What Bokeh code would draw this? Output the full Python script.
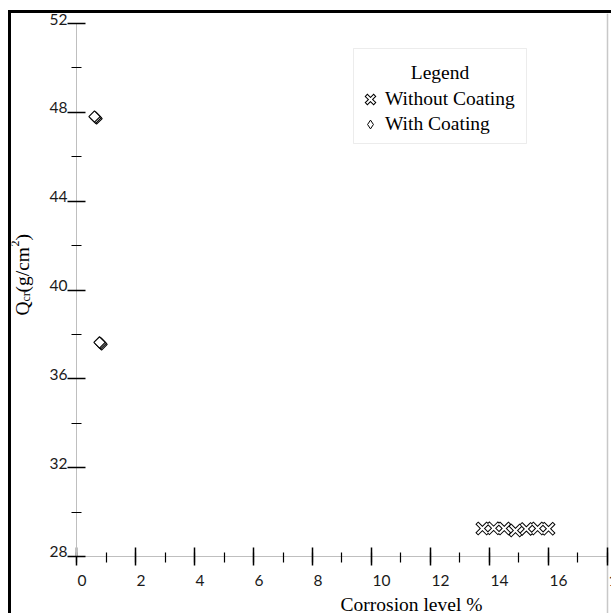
from math import pi

from bokeh.core.properties import value
from bokeh.embed import file_html
from bokeh.models import (BoxAnnotation, ColumnDataSource, CustomJSTickFormatter,
                          FixedTicker, Grid, Label, LabelSet, Legend, LegendItem,
                          SingleIntervalTicker)
from bokeh.plotting import figure
from bokeh.resources import INLINE

# Specimens with coating (two clusters of repeated measurements)
coated_x = [0.68, 0.65, 0.61, 0.85, 0.82, 0.78]
coated_q = [47.72, 47.76, 47.81, 37.55, 37.60, 37.64]

# Specimens without coating
bare_x = [13.76, 14.14, 14.50, 14.88, 15.25, 15.63, 16.00]
bare_q = [29.26, 29.27, 29.26, 29.17, 29.24, 29.26, 29.25]

x_ticks = [0, 2, 4, 6, 8, 10, 12, 14, 16, 18]
y_ticks = [28, 32, 36, 40, 44, 48, 52]
x_tick_labels = [str(v) for v in x_ticks]
y_tick_labels = [str(v) for v in y_ticks]

x_lo, x_hi = 0, 18
y_lo, y_hi = 28, 52

x_title = "Corrosion level %"
legend_title = "Legend"
serif = "Liberation Serif"
sans = "Lato"

# The frame fills the whole canvas; axes are pinned at x=0 and y=28 so that
# the titles and tick labels can sit freely around the plotting area.
p = figure(
    width=603, height=603,
    x_range=(-2.2034, 18.2373), y_range=(25.2983, 52.4503),
    output_backend="svg", toolbar_location=None,
    min_border=0,
    margin=(10, 0, 0, 8),
    styles={"border-left": "3px solid black", "border-top": "3px solid black"},
)
p.outline_line_color = None
p.xgrid.grid_line_color = None
p.ygrid.grid_line_color = "#d9d9d9"
p.ygrid.bounds = (x_lo, x_hi)
p.ygrid.ticker = SingleIntervalTicker(interval=4)
p.add_layout(Grid(dimension=0, ticker=FixedTicker(ticks=[x_hi]), bounds=(y_lo, y_hi),
                  grid_line_color="#c8c8c8", grid_line_width=1.5))

blank = CustomJSTickFormatter(code="return ''")
p.xaxis.ticker = SingleIntervalTicker(interval=2, num_minor_ticks=2)
p.yaxis.ticker = SingleIntervalTicker(interval=4, num_minor_ticks=2)
p.xaxis.fixed_location = y_lo
p.yaxis.fixed_location = x_lo
p.xaxis.bounds = (x_lo, x_hi)
p.yaxis.bounds = (y_lo, y_hi)

for ax in (p.xaxis[0], p.yaxis[0]):
    ax.formatter = blank
    ax.axis_line_color = "#bfbfbf"
    ax.major_tick_line_color = "black"
    ax.major_tick_line_width = 1.5
    ax.minor_tick_line_color = "black"
    ax.minor_tick_line_width = 1.2
    ax.major_tick_in = 9
    ax.major_tick_out = 9

p.yaxis.minor_tick_in = 5
p.yaxis.minor_tick_out = 5
p.xaxis.minor_tick_in = 4
p.xaxis.minor_tick_out = 6

# Tick labels
xlab = ColumnDataSource(dict(x=x_ticks, y=[y_lo] * len(x_ticks), text=x_tick_labels))
ylab = ColumnDataSource(dict(x=[x_lo] * len(y_ticks), y=y_ticks, text=y_tick_labels))
p.add_layout(LabelSet(x="x", y="y", text="text", source=xlab, x_offset=1, y_offset=-30,
                      text_align="left", text_baseline="alphabetic",
                      text_font=value(sans), text_font_size=value("15.5px"),
                      text_color=value("#1a1a1a")))
p.add_layout(LabelSet(x="x", y="y", text="text", source=ylab, x_offset=-9, y_offset=-1,
                      text_align="right", text_baseline="alphabetic",
                      text_font=value(sans), text_font_size=value("15.5px"),
                      text_color=value("#1a1a1a")))

# Outlined crosses: a heavy black stroke with a white core
r_bare_edge = p.scatter(bare_x, bare_q, marker="x", size=12, line_color="black",
                        line_width=4, line_cap="square")
r_bare_core = p.scatter(bare_x, bare_q, marker="x", size=12, line_color="white",
                        line_width=2, line_cap="square")

# Hollow diamonds (the narrow diamond beneath serves as the legend glyph)
r_coated_key = p.scatter(coated_x, coated_q, marker="diamond", size=10,
                         line_color="black", line_width=1, fill_color="white")
r_coated = p.scatter(coated_x, coated_q, marker="square", angle=pi / 4, size=8,
                     line_color="black", line_width=1.1, fill_color="white")

# Legend panel: a white box with its heading, the entries drawn over it
p.add_layout(BoxAnnotation(left=342, right=515, bottom=473, top=568,
                           left_units="screen", right_units="screen",
                           bottom_units="screen", top_units="screen",
                           fill_color="white", fill_alpha=1.0,
                           line_color="#bfbfbf", line_width=1))
p.add_layout(Label(x=428.5, y=544, x_units="screen", y_units="screen", text=legend_title,
                   text_font=serif, text_font_size="19.5px", text_align="center",
                   text_baseline="middle", text_color="black"))

legend = Legend(
    items=[
        LegendItem(label="Without Coating", renderers=[r_bare_edge, r_bare_core]),
        LegendItem(label="With Coating", renderers=[r_coated_key]),
    ],
    title=" ",
    location=(348, 480),
    border_line_color=None,
    background_fill_alpha=0.0,
    padding=6, margin=0, spacing=0,
    glyph_width=22, glyph_height=22, label_height=25, label_width=135,
    label_standoff=4,
    label_text_font=serif, label_text_font_size="19.5px", label_text_color="black",
    title_text_font=serif, title_text_font_size="19.5px",
    title_text_font_style="normal", title_standoff=9,
)
p.add_layout(legend)

# Axis titles
p.add_layout(Label(x=400, y=12, x_units="screen", y_units="screen", text=x_title,
                   text_font=serif, text_font_size="19.5px", text_align="center",
                   text_baseline="middle", text_color="black"))

y_parts = [
    ("Q", "19.5px", 0, 0),
    ("cr", "12px", 3, 14),
    ("(g/cm", "19.5px", 0, 23),
    ("2", "12px", -8, 69),
    (")", "19.5px", 0, 75),
]
for txt, size, dx, dy in y_parts:
    p.add_layout(Label(x=11 + dx, y=301 + dy, x_units="screen", y_units="screen",
                       text=txt, angle=pi / 2, text_font=serif, text_font_size=size,
                       text_align="left", text_baseline="alphabetic", text_color="black"))

open("out.html", "w").write(file_html(p, INLINE))
